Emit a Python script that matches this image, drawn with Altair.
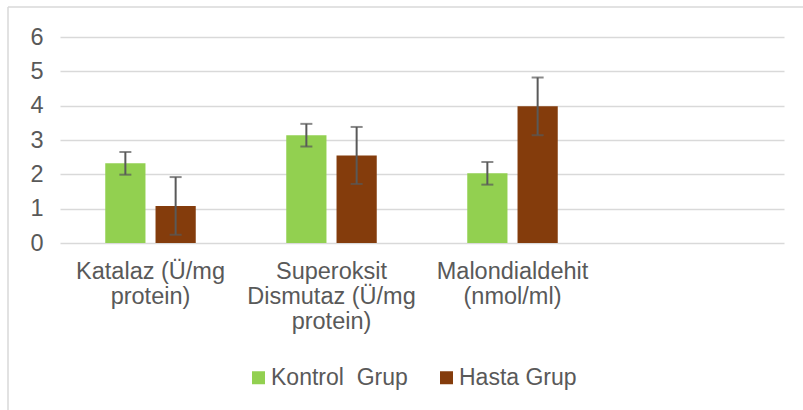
import altair as alt
import pandas as pd

# Enzyme / oxidative stress markers (mean ± SD) for the two groups
categories = [
    "Katalaz (Ü/mg\nprotein)",
    "Superoksit\nDismutaz (Ü/mg\nprotein)",
    "Malondialdehit\n(nmol/ml)",
]
axis_slots = categories + [""]  # empty fourth slot on the category axis
groups = ["Kontrol\u00a0 Grup", "Hasta Grup"]
kontrol_mean = [2.32, 3.14, 2.03]
kontrol_sd = [0.33, 0.33, 0.33]
hasta_mean = [1.08, 2.55, 3.98]
hasta_sd = [0.84, 0.83, 0.84]
y_ticks = [0, 1, 2, 3, 4, 5, 6]
colors = ["#92D050", "#843C0C"]

rows = []
for cat, m, s in zip(categories, kontrol_mean, kontrol_sd):
    rows.append({"cat": cat, "grup": groups[0], "mean": m, "lo": m - s, "hi": m + s})
for cat, m, s in zip(categories, hasta_mean, hasta_sd):
    rows.append({"cat": cat, "grup": groups[1], "mean": m, "lo": m - s, "hi": m + s})
df = pd.DataFrame(rows)

FONT = "Liberation Sans, Arial, sans-serif"
TEXT = "#595959"
W, H = 724, 206

x_enc = alt.X(
    "cat:N",
    sort=axis_slots,
    scale=alt.Scale(domain=axis_slots, paddingInner=0.5, paddingOuter=0.25),
    axis=alt.Axis(
        title=None,
        labelAngle=0,
        labelExpr="split(datum.label, '\\n')",
        labelFont=FONT,
        labelFontSize=23.5,
        labelLineHeight=25,
        labelColor=TEXT,
        labelPadding=16,
        labelBaseline="top",
        domain=False,
        ticks=False,
        grid=False,
    ),
)
xoff_enc = alt.XOffset(
    "grup:N", sort=groups, scale=alt.Scale(domain=groups, paddingInner=0.2, paddingOuter=0)
)
y_scale = alt.Scale(domain=[0, 6], nice=False, zero=True)
y_axis = alt.Axis(
    title=None,
    values=y_ticks,
    tickCount=len(y_ticks),
    labelOverlap=False,
    labelFont=FONT,
    labelFontSize=23.5,
    labelColor=TEXT,
    labelPadding=17,
    domain=False,
    ticks=False,
    grid=True,
    gridColor="#d9d9d9",
    gridWidth=1.5,
)

base = alt.Chart(df).encode(x=x_enc, xOffset=xoff_enc)

bars = base.mark_bar().encode(
    y=alt.Y("mean:Q", scale=y_scale, axis=y_axis),
    color=alt.Color(
        "grup:N",
        scale=alt.Scale(domain=groups, range=colors),
        legend=alt.Legend(
            title=None,
            orient="none",
            direction="horizontal",
            legendX=187,
            legendY=329,
            symbolType="square",
            symbolSize=169,
            symbolStrokeWidth=0,
            labelFont=FONT,
            labelFontSize=23,
            labelColor=TEXT,
            labelOffset=1,
            columnPadding=27,
            padding=0,
        ),
    ),
)

err_color = "#595959"
stems = base.mark_rule(color=err_color, strokeWidth=2).encode(
    y=alt.Y("lo:Q", scale=y_scale, axis=y_axis), y2="hi:Q"
)
cap_lo = base.mark_tick(color=err_color, thickness=2, size=12).encode(
    y=alt.Y("lo:Q", scale=y_scale, axis=y_axis)
)
cap_hi = base.mark_tick(color=err_color, thickness=2, size=12).encode(
    y=alt.Y("hi:Q", scale=y_scale, axis=y_axis)
)

# Light frame around the chart area (left and top edges)
frame_df = pd.DataFrame({"k": [0]})
frame_left = alt.Chart(frame_df).mark_rule(color="#d9d9d9", strokeWidth=1.5).encode(
    x=alt.value(-52), y=alt.value(-30), y2=alt.value(380)
)
frame_top = alt.Chart(frame_df).mark_rule(color="#d9d9d9", strokeWidth=1.5).encode(
    x=alt.value(-52), x2=alt.value(760), y=alt.value(-30)
)

chart = (
    alt.layer(bars, stems, cap_lo, cap_hi, frame_left, frame_top)
    .properties(
        width=W,
        height=H,
        background="white",
        autosize=alt.AutoSizeParams(type="none"),
        padding={"left": 60, "top": 37, "right": 19, "bottom": 167},
    )
    .configure_view(strokeWidth=0, stroke="transparent")
)

chart.save("out.html", embed_options={"renderer": "svg", "actions": False})
